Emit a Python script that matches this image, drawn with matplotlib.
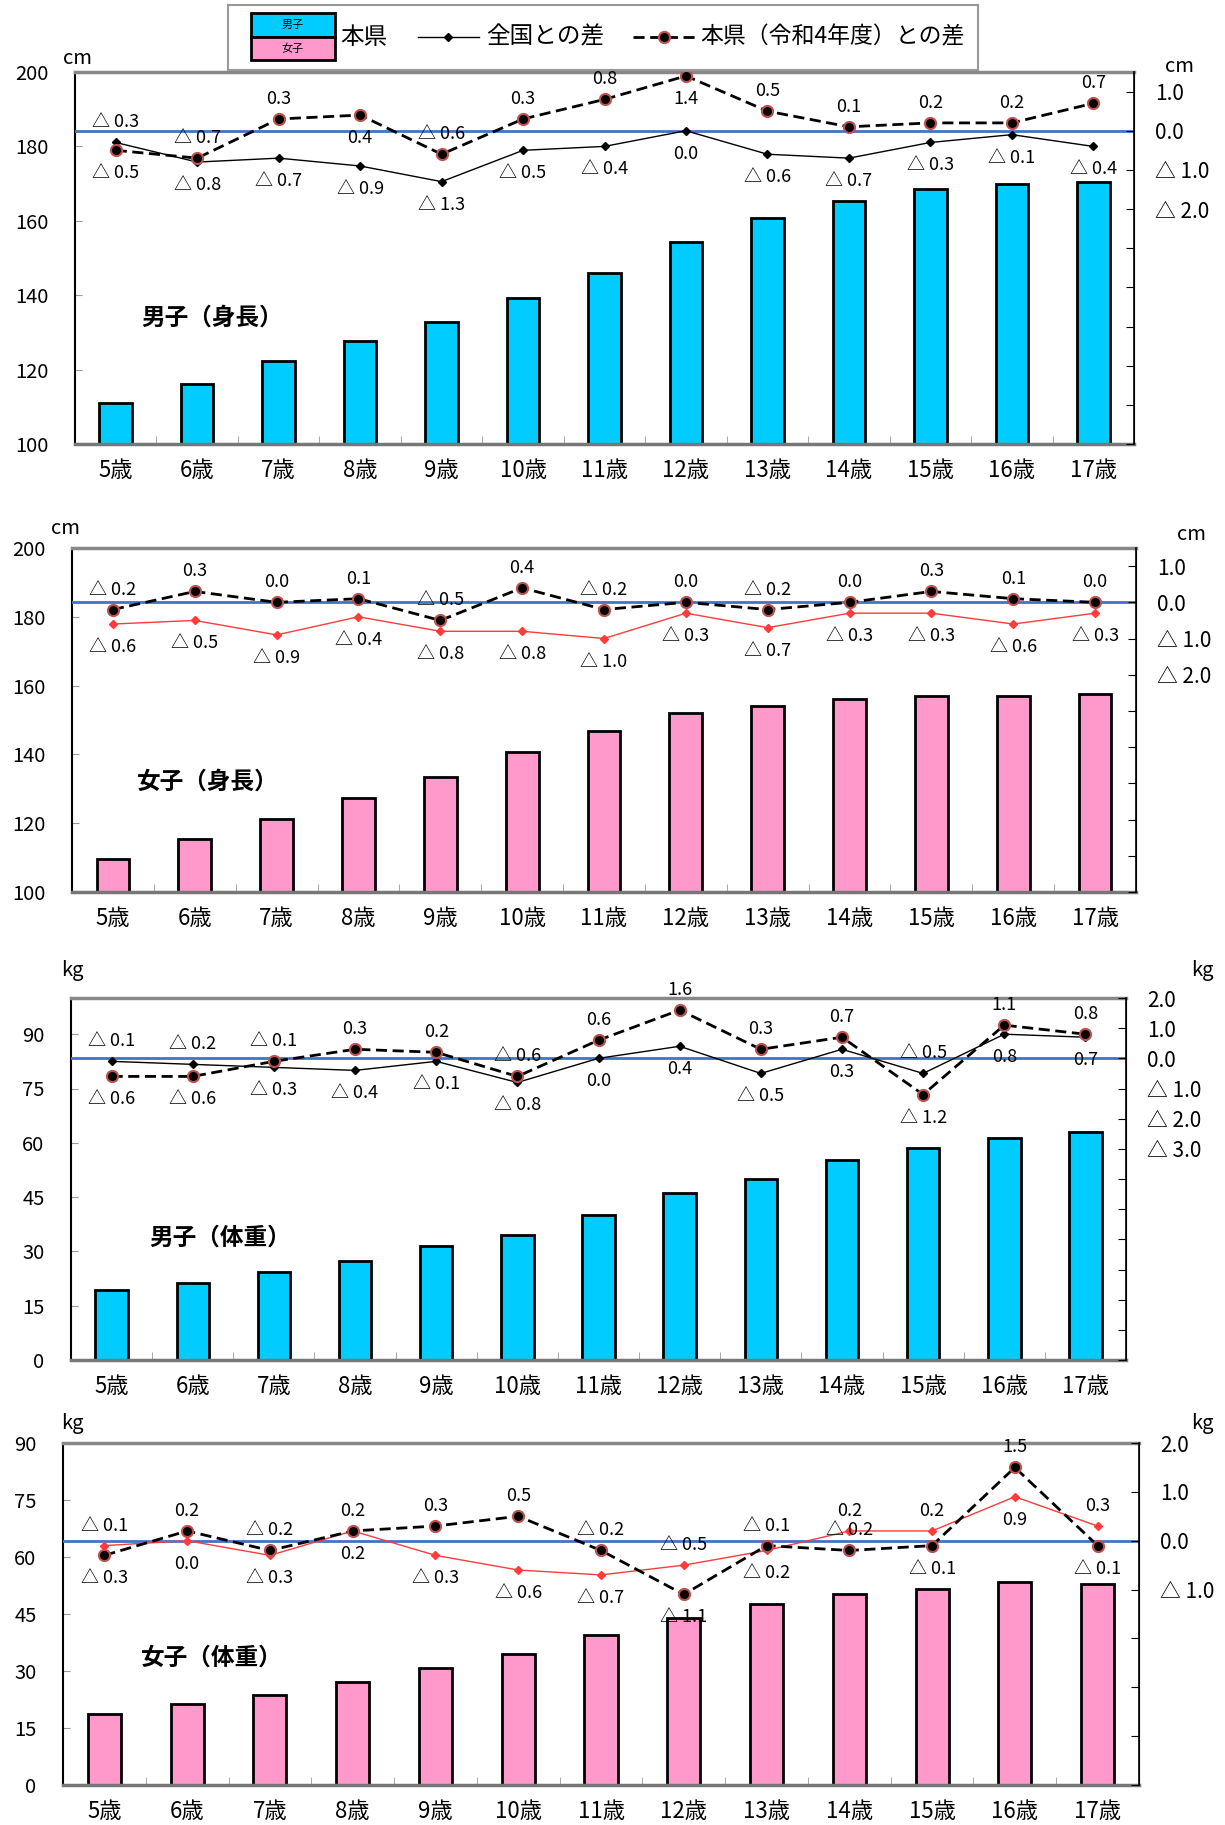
import numpy as np
import matplotlib
matplotlib.use("Agg")
from matplotlib import pyplot as plt
from matplotlib.patches import Rectangle
from matplotlib.lines import Line2D
from matplotlib.ticker import FixedLocator, FuncFormatter, MultipleLocator

plt.rcParams['font.family'] = ['Noto Sans CJK JP', 'DejaVu Sans']

# data
ages = ["5歳", "6歳", "7歳", "8歳", "9歳", "10歳", "11歳", "12歳", "13歳", "14歳", "15歳", "16歳", "17歳"]

boys_height = [110.9, 116.1, 122.4, 127.8, 132.9, 139.3, 146.0, 154.4, 160.7, 165.4, 168.5, 170.0, 170.4]
boys_height_vs_nation = [-0.3, -0.8, -0.7, -0.9, -1.3, -0.5, -0.4, 0.0, -0.6, -0.7, -0.3, -0.1, -0.4]
boys_height_vs_r4 = [-0.5, -0.7, 0.3, 0.4, -0.6, 0.3, 0.8, 1.4, 0.5, 0.1, 0.2, 0.2, 0.7]

girls_height = [109.5, 115.4, 121.2, 127.4, 133.5, 140.6, 146.8, 151.9, 154.2, 156.0, 156.9, 157.1, 157.6]
girls_height_vs_nation = [-0.6, -0.5, -0.9, -0.4, -0.8, -0.8, -1.0, -0.3, -0.7, -0.3, -0.3, -0.6, -0.3]
girls_height_vs_r4 = [-0.2, 0.3, 0.0, 0.1, -0.5, 0.4, -0.2, 0.0, -0.2, 0.0, 0.3, 0.1, 0.0]

boys_weight = [19.2, 21.4, 24.4, 27.3, 31.4, 34.6, 40.0, 46.2, 50.1, 55.3, 58.6, 61.2, 62.9]
boys_weight_vs_nation = [-0.1, -0.2, -0.3, -0.4, -0.1, -0.8, 0.0, 0.4, -0.5, 0.3, -0.5, 0.8, 0.7]
boys_weight_vs_r4 = [-0.6, -0.6, -0.1, 0.3, 0.2, -0.6, 0.6, 1.6, 0.3, 0.7, -1.2, 1.1, 0.8]

girls_weight = [18.8, 21.2, 23.8, 27.2, 30.7, 34.6, 39.4, 43.9, 47.6, 50.2, 51.5, 53.3, 53.0]
girls_weight_vs_nation = [-0.1, 0.0, -0.3, 0.2, -0.3, -0.6, -0.7, -0.5, -0.2, 0.2, 0.2, 0.9, 0.3]
girls_weight_vs_r4 = [-0.3, 0.2, -0.2, 0.2, 0.3, 0.5, -0.2, -1.1, -0.1, -0.2, -0.1, 1.5, -0.1]

# label placement (a = above, b = below)
pos_bh_nat = "abbbbbbbbbbbb"
pos_bh_r4 = "baabaaabaaaaa"
pos_gh_nat = "bbbbbbbbbbbbb"
pos_gh_r4 = "aaaaaaaaaaaaa"
pos_bw_nat = "aabbbbbbbbabb"
pos_bw_r4 = "bbaaaaaaaabaa"
pos_gw_nat = "abbbbbbabaaba"
pos_gw_r4 = "baaaaaabaabab"

W, H = 1225, 1825
BOY = "#00CCFF"
GIRL = "#FF99CC"
ZERO = "#4472C4"
RING = "#C0504D"


def fmt(v):
    if round(v, 1) < 0:
        return "△ %.1f" % abs(v)
    return "%.1f" % abs(v)


def draw_panel(fig, box, values, nation, r4, bar_color, nat_color, ylim, ystep,
               rlim, rmin_label, unit, title, title_xy, ul_xy, ur_xy, pos_nat, pos_r4):
    x0, y0, x1, y1 = box
    ax = fig.add_axes([x0 / W, 1 - y1 / H, (x1 - x0) / W, (y1 - y0) / H])
    x = np.arange(len(ages))
    ax.bar(x, values, width=0.4, color=bar_color, edgecolor="black", linewidth=2, zorder=2)
    ax.set_xlim(-0.5, len(ages) - 0.5)
    ax.set_ylim(*ylim)
    ax.yaxis.set_major_locator(MultipleLocator(ystep))
    ax.set_xticks(x, ages)
    ax.xaxis.set_minor_locator(FixedLocator(np.arange(0.5, len(ages) - 1, 1)))
    ax.tick_params(axis="x", which="major", length=0, pad=11, labelsize=16)
    ax.tick_params(axis="x", which="minor", direction="in", length=6, color="#999999")
    ax.tick_params(axis="y", direction="in", length=5, color="#999999", pad=19, labelsize=14.5)
    ax.spines["top"].set_color("#888888")
    ax.spines["top"].set_linewidth(2.5)
    ax.spines["bottom"].set_color("#777777")
    ax.spines["bottom"].set_linewidth(2.5)
    ax.spines["left"].set_linewidth(1.5)

    ax2 = ax.twinx()
    ax2.set_ylim(*rlim)
    ticks = np.arange(np.ceil(rlim[0]), np.floor(rlim[1]) + 1)
    ax2.yaxis.set_major_locator(FixedLocator(ticks))
    ax2.yaxis.set_major_formatter(FuncFormatter(lambda v, p: fmt(v) if v >= rmin_label - 0.01 else ""))
    ax2.tick_params(axis="y", direction="in", length=6, pad=15, labelsize=15)
    for s in ["top", "bottom", "left"]:
        ax2.spines[s].set_visible(False)
    ax2.spines["right"].set_linewidth(1.2)
    ax2.axhline(0, color=ZERO, lw=2, zorder=1)
    ax2.plot(x, nation, color=nat_color, lw=1, marker="D", ms=4, zorder=3)
    ax2.plot(x, r4, color="black", ls="--", dashes=(4, 2), lw=2, marker="o", ms=8,
             mfc="black", mec=RING, mew=1.5, zorder=4)
    for vals, pos in ((nation, pos_nat), (r4, pos_r4)):
        for i, v in enumerate(vals):
            off = 20 if pos[i] == "a" else -23
            ax2.annotate(fmt(v), (x[i], v), xytext=(0, off), textcoords="offset pixels",
                         ha="center", va="center", fontsize=13)

    fig.text(title_xy[0] / W, 1 - title_xy[1] / H, title, fontsize=17, fontweight="bold", va="center")
    fig.text(ul_xy[0] / W, 1 - ul_xy[1] / H, unit, fontsize=14.5, ha="center", va="center")
    fig.text(ur_xy[0] / W, 1 - ur_xy[1] / H, unit, fontsize=14.5, ha="center", va="center")


fig = plt.figure(figsize=(W / 100, H / 100), dpi=100)

draw_panel(fig, (75, 72, 1134, 444), boys_height, boys_height_vs_nation, boys_height_vs_r4,
           BOY, "black", (100, 200), 20, (-8, 1.5), -2, "cm", "男子（身長）",
           (141, 318), (78, 58), (1180, 66), pos_bh_nat, pos_bh_r4)
draw_panel(fig, (72, 548, 1136, 892), girls_height, girls_height_vs_nation, girls_height_vs_r4,
           GIRL, "#FF3B3B", (100, 200), 20, (-8, 1.5), -2, "cm", "女子（身長）",
           (137, 782), (66, 528), (1192, 535), pos_gh_nat, pos_gh_r4)
draw_panel(fig, (71, 998, 1126, 1360), boys_weight, boys_weight_vs_nation, boys_weight_vs_r4,
           BOY, "black", (0, 100), 15, (-10, 2), -3, "kg", "男子（体重）",
           (149, 1238), (72, 970), (1202, 970), pos_bw_nat, pos_bw_r4)
draw_panel(fig, (63, 1443, 1139, 1785), girls_weight, girls_weight_vs_nation, girls_weight_vs_r4,
           GIRL, "#FF3B3B", (0, 90), 15, (-5, 2), -1, "kg", "女子（体重）",
           (141, 1658), (72, 1423), (1202, 1423), pos_gw_nat, pos_gw_r4)

# legend box
lax = fig.add_axes([228 / W, 1 - 70 / H, 750 / W, 65 / H])
lax.set_xlim(228, 978)
lax.set_ylim(70, 5)
lax.set_xticks([])
lax.set_yticks([])
for s in lax.spines.values():
    s.set_color("#999999")
    s.set_linewidth(1.5)
lax.add_patch(Rectangle((251, 13), 84, 23.5, fc=BOY, ec="black", lw=2))
lax.add_patch(Rectangle((251, 36.5), 84, 23.5, fc=GIRL, ec="black", lw=2))
lax.text(293, 25, "男子", fontsize=8, ha="center", va="center")
lax.text(293, 48.5, "女子", fontsize=8, ha="center", va="center")
lax.text(340, 37, "本県", fontsize=17, va="center")
lax.add_line(Line2D([418, 479], [37, 37], color="black", lw=1))
lax.plot([448], [37], marker="D", ms=4, color="black")
lax.text(486, 37, "全国との差", fontsize=17, va="center")
lax.add_line(Line2D([633, 695], [37, 37], color="black", lw=2, ls="--", dashes=(4, 2)))
lax.plot([664], [37], marker="o", ms=8, mfc="black", mec=RING, mew=1.5)
lax.text(700, 37, "本県（令和4年度）との差", fontsize=16.5, va="center")

fig.savefig("out.png", dpi=100)
